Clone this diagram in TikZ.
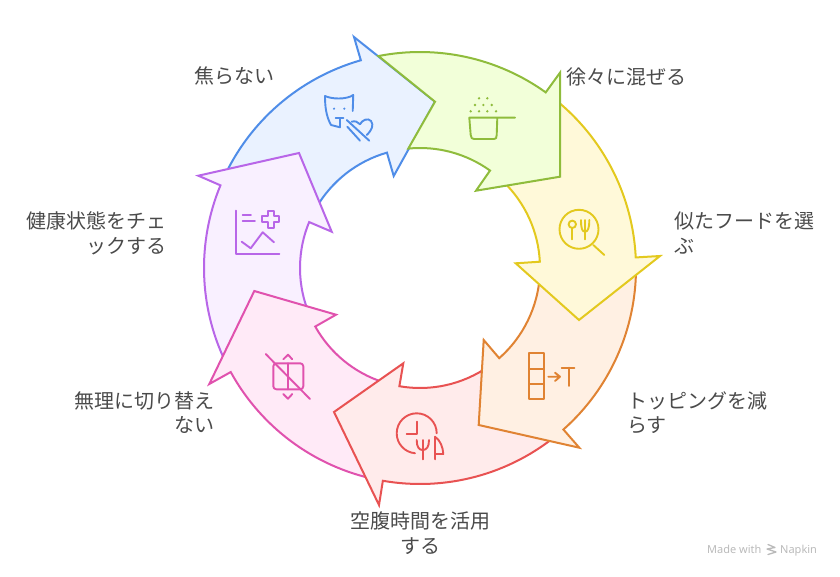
\documentclass[tikz,border=0pt]{standalone}
\usepackage{fontspec}
\setmainfont{Noto Sans CJK JP}
\newfontfamily\markfont{Noto Sans}
\usetikzlibrary{calc}
\definecolor{blueline}{HTML}{4F8DE8}
\definecolor{bluefill}{HTML}{EAF2FF}
\definecolor{greenline}{HTML}{8FBC3C}
\definecolor{greenfill}{HTML}{F2FFD9}
\definecolor{yellowline}{HTML}{E3C91E}
\definecolor{yellowfill}{HTML}{FFF9D9}
\definecolor{orangeline}{HTML}{E08333}
\definecolor{orangefill}{HTML}{FFF0E3}
\definecolor{redline}{HTML}{E85252}
\definecolor{redfill}{HTML}{FFEBEB}
\definecolor{pinkline}{HTML}{E052AE}
\definecolor{pinkfill}{HTML}{FFEAF7}
\definecolor{purpleline}{HTML}{B866E8}
\definecolor{purplefill}{HTML}{F9F0FF}
\definecolor{labelgray}{HTML}{4A4A4A}
\tikzset{arrowpart/.style = {line width=2pt, line join=miter, miter limit=10},
	iconline/.style = {line width=1.9pt, line cap=round, line join=round},
	steptext/.style = {text=labelgray, inner sep=0pt, font=\fontsize{20}{24.6}\selectfont},
	credit/.style   = {text=black!27, inner sep=0pt, font=\markfont\fontsize{11}{12}\selectfont}
}

\begin{document}
\begin{tikzpicture}[x=1pt, y=1pt]
	\useasboundingbox (0,0) rectangle (840,-577);
	\coordinate (ctr) at (420,-268);
	%% ring parts, each next one lies on top of the one before
	\draw[arrowpart, draw=blueline, fill=bluefill] ($(ctr)+(105.9:216)$) arc[start angle=105.9, end angle=156, radius=216pt] -- ($(ctr)+(150:120)$) arc[start angle=150, end angle=106, radius=120pt] -- (393.7,-176) -- (435,-101.7) -- (354,-37) -- cycle;
	\draw[arrowpart, draw=purpleline, fill=purplefill] ($(ctr)+(157.5:216)$) arc[start angle=157.5, end angle=206, radius=216pt] -- ($(ctr)+(200:120)$) arc[start angle=200, end angle=157.5, radius=120pt] -- (331.7,-231.7) -- (299,-153) -- (198.3,-175.7) -- cycle;
	\draw[arrowpart, draw=pinkline, fill=pinkfill] ($(ctr)+(258:216)$) arc[start angle=258, end angle=208.8, radius=216pt] -- (209.3,-384) -- (254.3,-291) -- (336,-314.7) -- ($(ctr)+(209.2:120)$) arc[start angle=209.2, end angle=252, radius=120pt] -- cycle;
	\draw[arrowpart, draw=redline, fill=redfill] ($(ctr)+(-50:216)$) arc[start angle=-50, end angle=-99.9, radius=216pt] -- (379,-505) -- (334,-412) -- (403.3,-363.3) -- ($(ctr)+(-99.9:120)$) arc[start angle=-99.9, end angle=-55, radius=120pt] -- cycle;
	\draw[arrowpart, draw=orangeline, fill=orangefill] ($(ctr)+(0:216)$) arc[start angle=0, end angle=-48.4, radius=216pt] -- (579.3,-447.7) -- (478.7,-425) -- (483.7,-340) -- ($(ctr)+(-48.7:120)$) arc[start angle=-48.7, end angle=-3, radius=120pt] -- cycle;
	\draw[arrowpart, draw=yellowline, fill=yellowfill] ($(ctr)+(49.5:216)$) arc[start angle=49.5, end angle=2.8, radius=216pt] -- (660,-256) -- (579,-320) -- (515.7,-263.3) -- ($(ctr)+(3:120)$) arc[start angle=3, end angle=46, radius=120pt] -- cycle;
	\draw[arrowpart, draw=greenline, fill=greenfill] ($(ctr)+(101.1:216)$) arc[start angle=101.1, end angle=54.4, radius=216pt] -- (560,-72.7) -- (560,-176.7) -- (476,-190.7) -- ($(ctr)+(54.3:120)$) arc[start angle=54.3, end angle=95.6, radius=120pt] -- (435,-101.7) -- cycle;

	%% icons, coordinates counted from the top
	\begin{scope}[y=-1pt, iconline]
		% cat and heart
		\begin{scope}[blueline]
			\draw (325,96) .. controls (331,99) and (346,100) .. (353.3,95) .. controls (353,100) and (353,105) .. (352.7,111);
			\draw (325,96) .. controls (325,106) and (326,116) .. (331,125) -- (340,127.3) -- (340,118.3);
			\draw (335.7,118.3) -- (343.3,118.3);
			\fill (334,108.7) circle[radius=1.2pt] (344.3,108.7) circle[radius=1.2pt];
			\draw (346.7,120) -- (369.3,140.7);
			\draw (347.3,126.7) -- (360,140.7);
			\draw (351.7,121.7) .. controls (355,120.5) and (358,122) .. (360,124.3) .. controls (362,120) and (368,117.5) .. (371,121) .. controls (374,125) and (372,130) .. (366.7,135);
		\end{scope}
		% pot and grains
		\begin{scope}[greenline]
			\draw (515,117.7) -- (469.3,117.7) -- (470.7,135) .. controls (471,138) and (472,139) .. (474,139) -- (494,139) .. controls (496,139) and (496.7,138) .. (496.7,135) -- (497.3,117.7);
			\foreach \dotx/\doty in {479/98.3, 487.3/98.3, 475/105, 483.3/105, 491.7/105, 470.7/111.3, 479/111.3, 487.3/111.3, 496/111.3}
				\fill (\dotx,\doty) circle[radius=1.3pt];
		\end{scope}
		% spoon and fork under a lens
		\begin{scope}[yellowline]
			\draw (579,229.3) circle[radius=19.5pt];
			\draw (593.3,245) -- (604.3,255);
			\draw (572.3,224.3) circle[radius=3.7pt];
			\draw (572.3,228) -- (572.3,239.3);
			\draw (585,220) -- (585,239.3);
			\draw (581,220) .. controls (581,228) and (582,231.7) .. (585,231.7) .. controls (588,231.7) and (589.3,228) .. (589.3,220);
		\end{scope}
		% stack and letter
		\begin{scope}[orangeline]
			\draw (529,353.3) rectangle (544,399);
			\draw (529,368.7) -- (544,368.7) (529,384) -- (544,384);
			\draw (548.3,376.7) -- (560,376.7) (555,372.7) -- (560,376.7) -- (555,381);
			\draw (561.7,367.7) -- (574.3,367.7) (568.7,367.7) -- (568.7,386);
		\end{scope}
		% clock, fork and knife
		\begin{scope}[redline]
			\draw (436.7,433.3) arc[start angle=0, end angle=265, radius=20pt];
			\draw (416.7,421.7) -- (416.7,434) -- (406.7,434);
			\draw (422.7,440) -- (422.7,459.3);
			\draw (416.7,440) .. controls (416.7,447) and (419,450) .. (422.7,450) .. controls (426.5,450) and (429,447) .. (429,440);
			\draw (435,459.3) -- (435,436.7) .. controls (440,440) and (443,447) .. (443.3,454) -- (435,454);
		\end{scope}
		% crossed out box
		\begin{scope}[pinkline]
			\draw[rounded corners=3pt] (273.3,363.3) rectangle (303.3,389.3);
			\draw (288,363.3) -- (288,389.3);
			\draw (265.7,354) -- (310,399);
			\draw (283.3,359.3) -- (288,354.7) -- (292.3,359.3);
			\draw (283.3,394) -- (288,398.7) -- (292.3,394);
		\end{scope}
		% chart and cross
		\begin{scope}[purpleline]
			\draw (236,210.7) -- (236,254) -- (279.3,254);
			\draw (242.7,214.7) -- (251,214.7) (242.7,221) -- (255,221);
			\draw (267.7,210.6) -- (273.7,210.6) -- (273.7,216.3) -- (279.4,216.3) -- (279.4,222.3) -- (273.7,222.3) -- (273.7,228) -- (267.7,228) -- (267.7,222.3) -- (262,222.3) -- (262,216.3) -- (267.7,216.3) -- cycle;
			\draw (241.7,241.7) -- (250.7,248.3) -- (262.7,232.3) -- (274,242.3);
		\end{scope}
		% small sign beside the maker name
		\begin{scope}[black!27, line width=1.3pt]
			\draw (768,544.5) -- (775,547.5) -- (767,549) -- (776,552) -- (768,554.5);
		\end{scope}
	\end{scope}

	\node [steptext, anchor=west] (lb1) at (194,-76) {焦らない};
	\node [steptext, anchor=west] (lb2) at (566,-77) {徐々に混ぜる};
	\node [steptext, anchor=north west, align=left] (lb3) at (674,-211.5) {似たフードを選\\ぶ};
	\node [steptext, anchor=north west, align=left] (lb4) at (627,-391) {トッピングを減\\らす};
	\node [steptext, anchor=north, align=center] (lb5) at (420,-511.5) {空腹時間を活用\\する};
	\node [steptext, anchor=north east, align=right] (lb6) at (215,-391) {無理に切り替え\\ない};
	\node [steptext, anchor=north east, align=right] (lb7) at (167,-211.5) {健康状態をチェ\\ックする};
	\node [credit, anchor=base west] (made) at (707,-553) {Made with};
	\node [credit, anchor=base west] (napkin) at (780,-553) {Napkin};
\end{tikzpicture}
\end{document}
